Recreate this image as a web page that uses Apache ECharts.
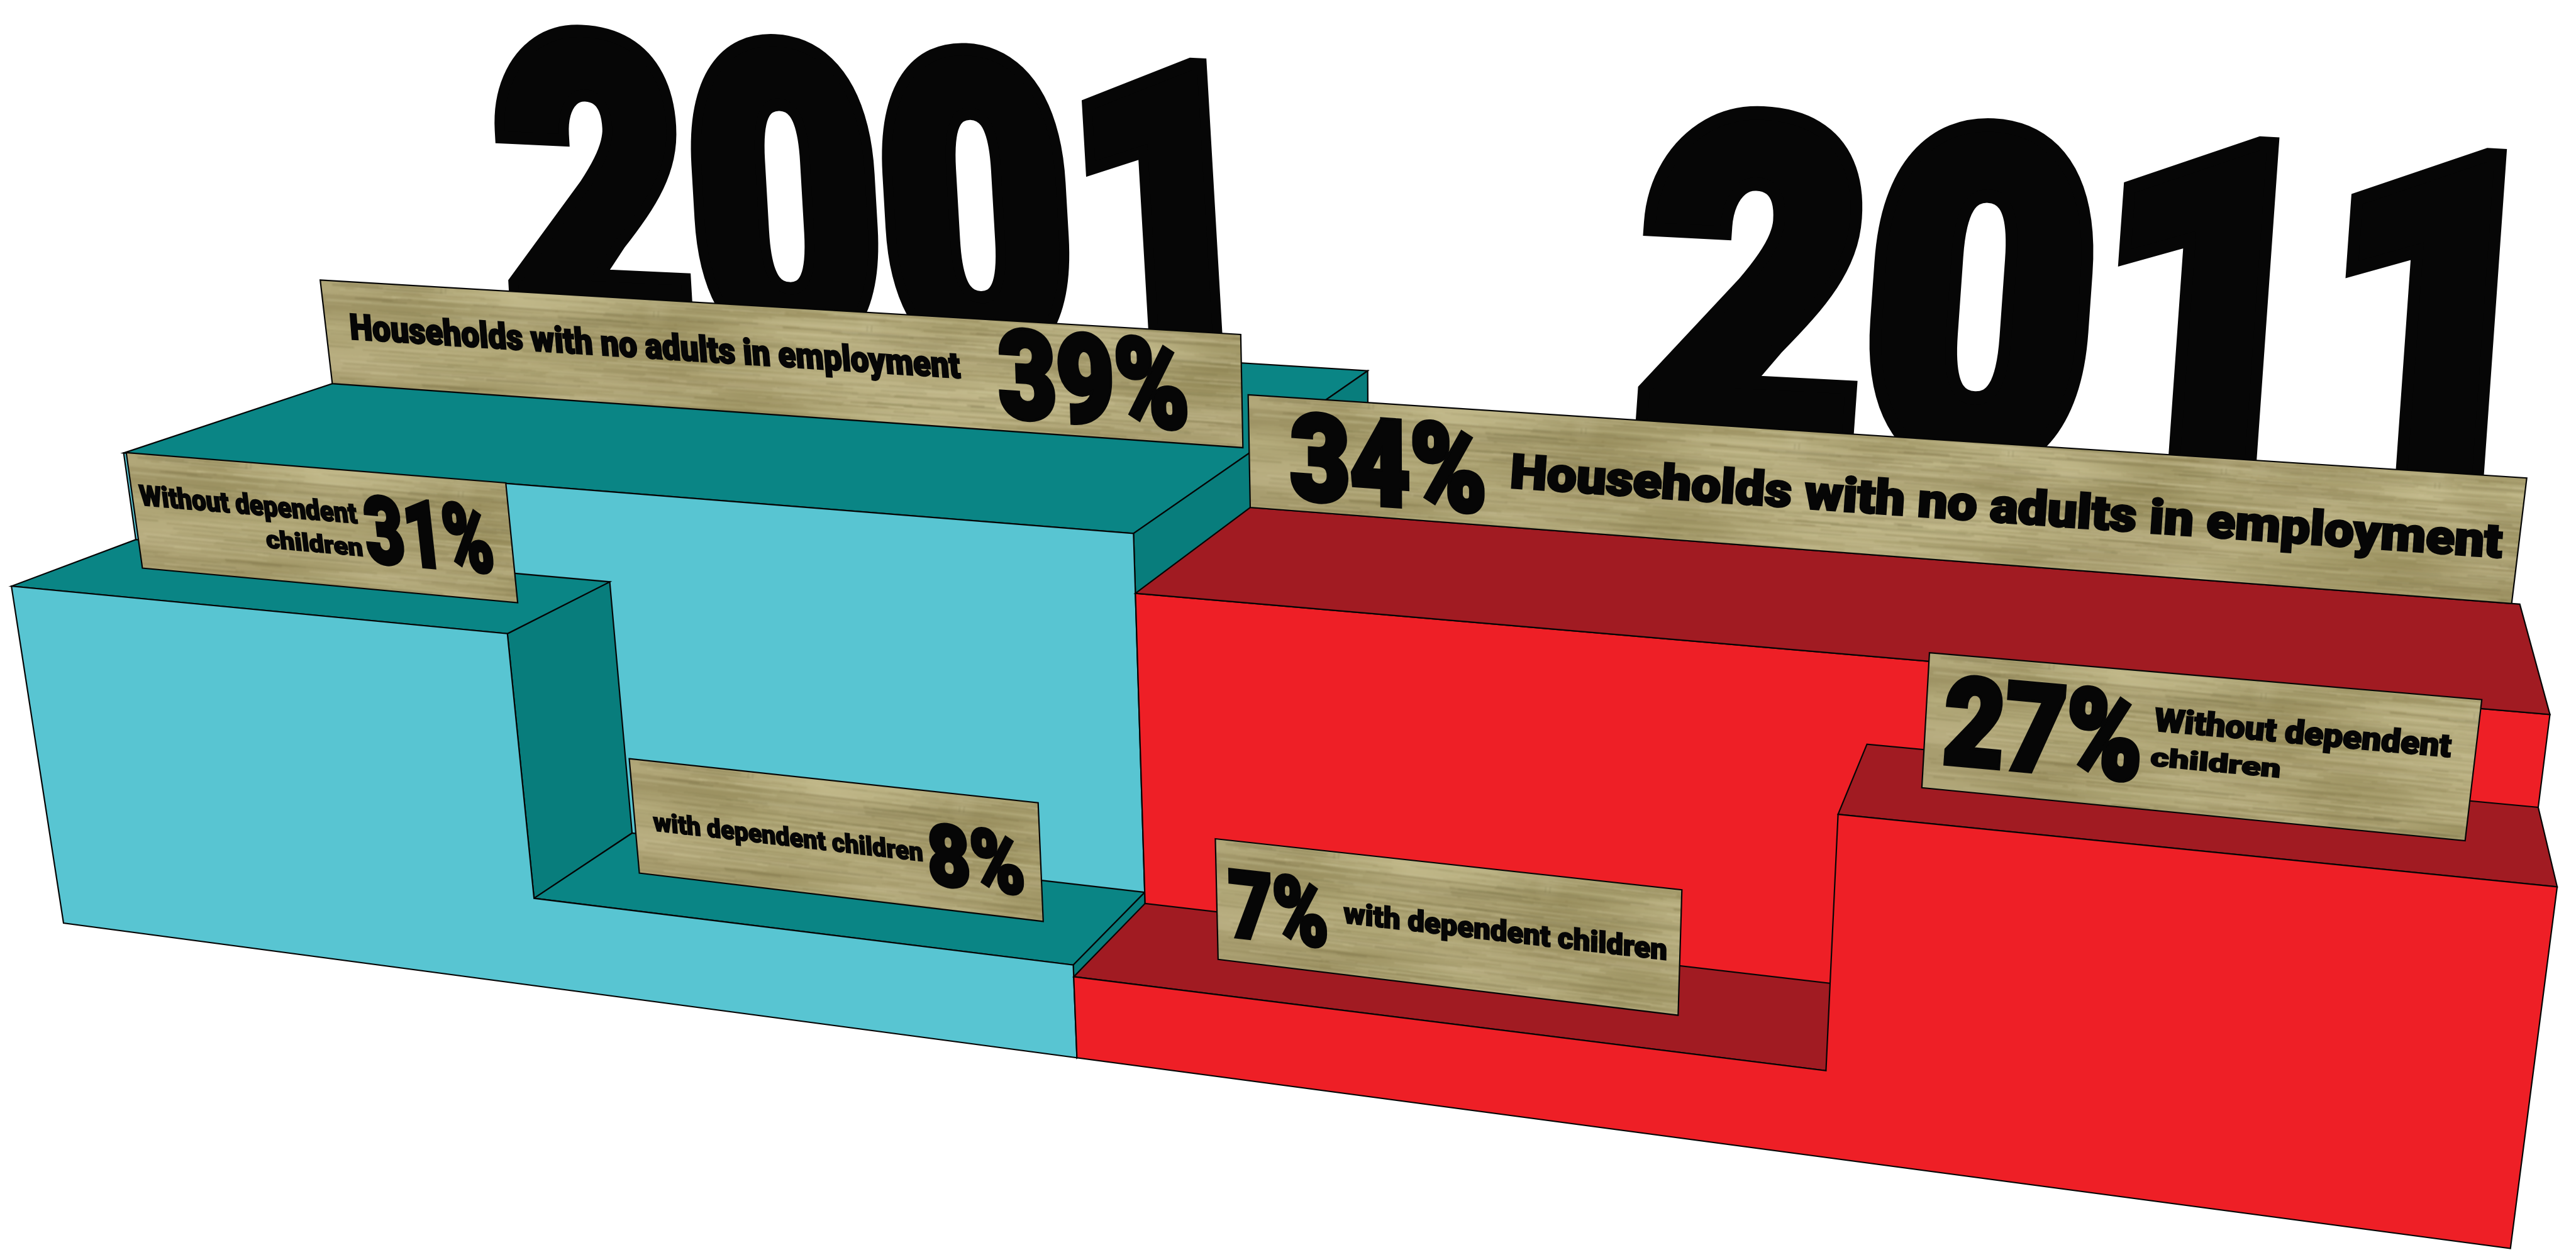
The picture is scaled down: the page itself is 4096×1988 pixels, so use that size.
<!DOCTYPE html>
<html>
<head>
<meta charset="utf-8">
<style>html,body{margin:0;padding:0;background:#fff}#chart{width:4096px;height:1988px}</style>
<script src="https://cdn.jsdelivr.net/npm/echarts@6/dist/echarts.min.js"></script>
</head>
<body>
<div id="chart"></div>
<script>
// Shares of households, per cent, by census year.
const years = ['2001', '2011'];
const noAdults = [39, 34];
const withoutChildren = [31, 27];
const withChildren = [8, 7];
const labelNoAdults = 'Households with no adults in employment';
const labelWithout = ['Without dependent', 'children'];
const labelWith = 'with dependent children';

// Camera: three vanishing points and the scene origin, in axis units.
const ORIGIN = [102, 1482];
const VP_X = [-14200, -420], VP_Y = [2279, 15553], VP_Z = [3665, -425];
const K_X = -0.0002155, K_Y = -0.001194, K_Z = 0.000558;
function project(X, Y, Z) {
  const s = K_X * X, u = K_Y * Y, v = K_Z * Z, w = 1 + s + u + v;
  return [
    (ORIGIN[0] + s * VP_X[0] + u * VP_Y[0] + v * VP_Z[0]) / w,
    (ORIGIN[1] + s * VP_X[1] + u * VP_Y[1] + v * VP_Z[1]) / w
  ];
}

// Block footprint along the front and into the depth.
const X_A = 237, X_MID = 474, X_B = 765, X_END = 1000;
const Z_WALL = 100, Z_BACK_A = 516, Z_BACK_B = 282;

const BLUE = '#58c5d2', TEAL_TOP = '#0a8585', TEAL_SIDE = '#087d7c';
const RED = '#ee1f26', RED_TOP = '#a11b22';

const faces = (function () {
  const hi = noAdults[0], mid = withoutChildren[0], lo = withChildren[0];
  const Hi = noAdults[1], Mid = withoutChildren[1], Lo = withChildren[1];
  return [
    { color: TEAL_TOP, pts: [[0, hi, Z_WALL], [X_MID, hi, Z_WALL], [X_MID, hi, Z_BACK_A], [0, hi, Z_BACK_A]] },
    { color: TEAL_SIDE, pts: [[X_MID, hi, Z_WALL], [X_MID, hi, Z_BACK_A], [X_MID, 0, Z_BACK_A], [X_MID, 0, Z_WALL]] },
    { color: BLUE, pts: [[0, 0, Z_WALL], [X_MID, 0, Z_WALL], [X_MID, hi, Z_WALL], [0, hi, Z_WALL]] },
    { color: TEAL_SIDE, pts: [[X_A, mid, 0], [X_A, mid, Z_WALL], [X_A, lo, Z_WALL], [X_A, lo, 0]] },
    { color: TEAL_TOP, pts: [[0, mid, 0], [X_A, mid, 0], [X_A, mid, Z_WALL], [0, mid, Z_WALL]] },
    { color: TEAL_TOP, pts: [[X_A, lo, 0], [X_MID, lo, 0], [X_MID, lo, Z_WALL], [X_A, lo, Z_WALL]] },
    { color: TEAL_SIDE, pts: [[X_MID, lo, 0], [X_MID, lo, Z_WALL], [X_MID, 0, Z_WALL], [X_MID, 0, 0]] },
    { color: BLUE, pts: [[0, 0, 0], [0, mid, 0], [X_A, mid, 0], [X_A, lo, 0], [X_MID, lo, 0], [X_MID, 0, 0]] },

    { color: RED, pts: [[X_MID, 0, Z_WALL], [X_END, 0, Z_WALL], [X_END, Hi, Z_WALL], [X_MID, Hi, Z_WALL]] },
    { color: RED_TOP, pts: [[X_MID, Hi, Z_WALL], [X_END, Hi, Z_WALL], [X_END, Hi, Z_BACK_B], [X_MID, Hi, Z_BACK_B]] },
    { color: RED_TOP, pts: [[X_MID, Lo, 0], [X_B, Lo, 0], [X_B, Lo, Z_WALL], [X_MID, Lo, Z_WALL]] },
    { color: RED_TOP, pts: [[X_B, Mid, 0], [X_END, Mid, 0], [X_END, Mid, Z_WALL], [X_B, Mid, Z_WALL]] },
    { color: RED, pts: [[X_MID, 0, 0], [X_MID, Lo, 0], [X_B, Lo, 0], [X_B, Mid, 0], [X_END, Mid, 0], [X_END, 0, 0]] }
  ];
})();

// Planks: each stands on its step and carries its captions.
const PLANK_H = 10.3;
const planks = [
  { value: noAdults[0], x0: 0, x1: 468, z: 293.5, texts: [
    { text: labelNoAdults, f: [0.03, 0.713, 0.445, 0.70] },
    { text: noAdults[0] + '%', f: [0.752, 0.945, 0.11, 0.945] } ] },
  { value: withoutChildren[0], x0: 34, x1: 217, z: 50.5, texts: [
    { text: labelWithout[0], f: [0.02, 0.605, 0.55, 0.735] },
    { text: labelWithout[1], f: [0.352, 0.608, 0.275, 0.435] },
    { text: withoutChildren[0] + '%', f: [0.62, 0.948, 0.22, 0.815] } ] },
  { value: withChildren[0], x0: 264, x1: 446, z: 47.7, texts: [
    { text: labelWith, f: [0.047, 0.717, 0.39, 0.56] },
    { text: withChildren[0] + '%', f: [0.732, 0.958, 0.195, 0.745] } ] },
  { value: noAdults[1], x0: 474, x1: 997, z: Z_BACK_B, texts: [
    { text: noAdults[1] + '%', f: [0.036, 0.204, 0.09, 0.89] },
    { text: labelNoAdults, f: [0.227, 0.989, 0.345, 0.645] } ] },
  { value: withChildren[1], x0: 522, x1: 705, z: 41, texts: [
    { text: withChildren[1] + '%', f: [0.026, 0.246, 0.195, 0.78] },
    { text: labelWith, f: [0.282, 0.972, 0.425, 0.605] } ] },
  { value: withoutChildren[1], x0: 790, x1: 973.5, z: 46, texts: [
    { text: withoutChildren[1] + '%', f: [0.035, 0.405, 0.185, 0.865] },
    { text: labelWithout[0], f: [0.426, 0.958, 0.575, 0.75] },
    { text: labelWithout[1], f: [0.425, 0.661, 0.32, 0.46] } ] }
];

// Flat list of every caption, resolved to a box in scene space.
const captions = [];
planks.forEach(function (p) {
  p.texts.forEach(function (t) {
    const xa = p.x0 + t.f[0] * (p.x1 - p.x0), xb = p.x0 + t.f[1] * (p.x1 - p.x0);
    const yb = p.value + t.f[2] * PLANK_H, yt = p.value + t.f[3] * PLANK_H;
    captions.push({ text: t.text, xa: xa, xb: xb, yb: yb, yt: yt, z: p.z, lw: 4.5 });
  });
});

const yearBoxes = [
  { text: years[0], xa: -12, xb: 396, yb: 37, yt: 70.4, z: Z_BACK_A, lw: 6 },
  { text: years[1], xa: 633, xb: 984, yb: 39, yt: 69.2, z: 358, lw: 6 }
];

const FONT = '900 100px Roboto, "Liberation Sans", sans-serif';
const measureCtx = document.createElement('canvas').getContext('2d');
measureCtx.font = FONT;
measureCtx.textAlign = 'center';
measureCtx.textBaseline = 'middle';

// Affine text placement: a box in scene space becomes rotate-scale-rotate around its centre.
function renderCaption(box, api) {
  const toPx = function (X, Y) { return api.coord(project(X, Y, box.z)); };
  const bl = toPx(box.xa, box.yb), br = toPx(box.xb, box.yb);
  const tl = toPx(box.xa, box.yt), tr = toPx(box.xb, box.yt);
  const m = measureCtx.measureText(box.text);
  const cap = measureCtx.measureText('H');
  const inkW = m.actualBoundingBoxLeft + m.actualBoundingBoxRight + box.lw;
  const inkH = cap.actualBoundingBoxAscent + cap.actualBoundingBoxDescent + box.lw;
  const dx = -(m.actualBoundingBoxRight - m.actualBoundingBoxLeft) / 2;
  const dy = -(cap.actualBoundingBoxDescent - cap.actualBoundingBoxAscent) / 2;
  const a = ((br[0] - bl[0]) + (tr[0] - tl[0])) / 2 / inkW;
  const b = ((br[1] - bl[1]) + (tr[1] - tl[1])) / 2 / inkW;
  const c = ((bl[0] - tl[0]) + (br[0] - tr[0])) / 2 / inkH;
  const d = ((bl[1] - tl[1]) + (br[1] - tr[1])) / 2 / inkH;
  const E = (a + d) / 2, F = (a - d) / 2, G = (b + c) / 2, H = (b - c) / 2;
  const Q = Math.hypot(E, H), R = Math.hypot(F, G);
  const a1 = Math.atan2(G, F), a2 = Math.atan2(H, E);
  return {
    type: 'group',
    x: (bl[0] + br[0] + tl[0] + tr[0]) / 4,
    y: (bl[1] + br[1] + tl[1] + tr[1]) / 4,
    rotation: -(a2 + a1) / 2,
    scaleX: Q + R,
    scaleY: Q - R,
    children: [{
      type: 'group',
      rotation: -(a2 - a1) / 2,
      children: [{
        type: 'text',
        style: {
          text: box.text, x: dx, y: dy, font: FONT,
          textAlign: 'center', textVerticalAlign: 'middle',
          fill: '#060606', stroke: '#060606', lineWidth: box.lw, lineJoin: 'round'
        }
      }]
    }]
  };
}

// Wood grain tile, built from a small fixed-seed generator.
const woodTile = (function () {
  const c = document.createElement('canvas');
  c.width = 2300; c.height = 300;
  const g = c.getContext('2d');
  let seed = 20011;
  const next = function () { seed = (seed * 16807) % 2147483647; return seed / 2147483647; };
  g.fillStyle = '#aea376';
  g.fillRect(0, 0, c.width, c.height);
  // Plank bands of slightly different tone.
  for (let y = 0; y < c.height;) {
    const h = 26 + next() * 44;
    g.globalAlpha = 0.15 + next() * 0.18;
    g.fillStyle = next() > 0.5 ? '#c6bd8f' : '#93895a';
    g.fillRect(0, y, c.width, h);
    y += h;
  }
  g.globalAlpha = 1;
  for (let i = 0; i < 110; i++) {
    const x = next() * c.width, y = next() * c.height, r = 40 + next() * 90;
    const light = next() > 0.5;
    g.save();
    g.translate(x, y); g.scale(2.0, 0.6);
    const rg = g.createRadialGradient(0, 0, 0, 0, 0, r);
    rg.addColorStop(0, light ? 'rgba(203,195,148,0.45)' : 'rgba(132,122,70,0.35)');
    rg.addColorStop(1, light ? 'rgba(203,195,148,0)' : 'rgba(132,122,70,0)');
    g.fillStyle = rg;
    g.fillRect(-r, -r, 2 * r, 2 * r);
    g.restore();
  }
  const tones = ['#85794a', '#cfc79c', '#968b5c', '#c2b98b', '#756d43', '#d2caa2'];
  for (let i = 0; i < 3600; i++) {
    g.globalAlpha = 0.08 + next() * 0.22;
    g.fillStyle = tones[Math.floor(next() * tones.length)];
    g.fillRect(next() * c.width, next() * c.height, 24 + next() * 220, 1 + next() * 2.6);
  }
  // Faint knots along the upper edge.
  for (let x = 200; x < c.width; x += 340) {
    const ky = 34 + next() * 20;
    g.save();
    g.translate(x, ky); g.scale(0.8, 1);
    const rg = g.createRadialGradient(0, 0, 2, 0, 0, 30);
    rg.addColorStop(0, 'rgba(215,208,172,0.55)');
    rg.addColorStop(1, 'rgba(215,208,172,0)');
    g.fillStyle = rg;
    g.fillRect(-30, -30, 60, 60);
    g.restore();
    g.globalAlpha = 0.3;
    g.fillStyle = '#6d663f';
    g.fillRect(x - 5, ky + 2, 1.5, 9); g.fillRect(x + 2, ky + 1, 1.5, 10);
  }
  g.globalAlpha = 1;
  const soft = document.createElement('canvas');
  soft.width = c.width; soft.height = c.height;
  const sg = soft.getContext('2d');
  sg.filter = 'blur(1px)';
  sg.drawImage(c, 0, 0);
  return soft;
})();

function polygon(points, fill) {
  return {
    type: 'polygon',
    shape: { points: points },
    style: { fill: fill, stroke: '#050505', lineWidth: 2.2, lineJoin: 'miter' }
  };
}

const chart = echarts.init(document.getElementById('chart'), null, { renderer: 'canvas' });
chart.setOption({
  animation: false,
  backgroundColor: '#ffffff',
  grid: { left: 0, right: 0, top: 0, bottom: 0 },
  xAxis: { type: 'value', min: 0, max: 4136, show: false },
  yAxis: { type: 'value', min: 0, max: 2007, inverse: true, show: false },
  series: [
    {
      name: 'years', type: 'custom', coordinateSystem: 'cartesian2d', silent: true, clip: false,
      data: yearBoxes.map(function (b, i) { return [i, Number(b.text)]; }),
      renderItem: function (params, api) { return renderCaption(yearBoxes[params.dataIndex], api); }
    },
    {
      name: 'blocks', type: 'custom', coordinateSystem: 'cartesian2d', silent: true, clip: false,
      data: faces.map(function (f, i) { return [i, f.pts[0][1]]; }),
      renderItem: function (params, api) {
        const f = faces[params.dataIndex];
        return polygon(f.pts.map(function (p) { return api.coord(project(p[0], p[1], p[2])); }), f.color);
      }
    },
    {
      name: 'planks', type: 'custom', coordinateSystem: 'cartesian2d', silent: true, clip: false,
      data: planks.map(function (p, i) { return [i, p.value]; }),
      renderItem: function (params, api) {
        const p = planks[params.dataIndex];
        const pts = [
          [p.x0, p.value + PLANK_H], [p.x1, p.value + PLANK_H], [p.x1, p.value], [p.x0, p.value]
        ].map(function (q) { return api.coord(project(q[0], q[1], p.z)); });
        const angle = Math.atan2(pts[2][1] - pts[3][1], pts[2][0] - pts[3][0]);
        return polygon(pts, {
          image: woodTile, repeat: 'repeat',
          x: pts[0][0], y: pts[0][1] - 40, rotation: angle
        });
      }
    },
    {
      name: 'captions', type: 'custom', coordinateSystem: 'cartesian2d', silent: true, clip: false,
      data: captions.map(function (c, i) { return [i, c.yb]; }),
      renderItem: function (params, api) { return renderCaption(captions[params.dataIndex], api); }
    }
  ]
});
</script>
</body>
</html>
